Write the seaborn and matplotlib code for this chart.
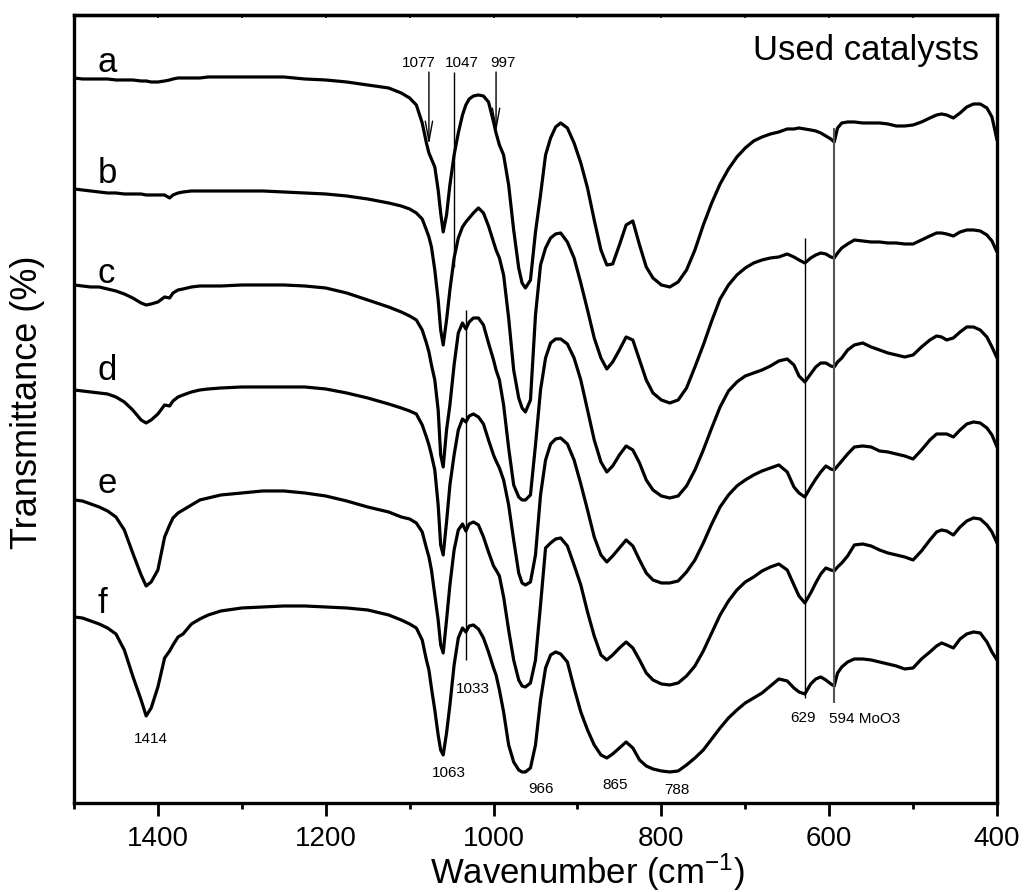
import matplotlib
matplotlib.use("Agg")
import matplotlib.pyplot as plt
import pandas as pd
import seaborn as sns

# Wavenumber grid (cm-1) shared by all spectra
wavenumber = [
    1500, 1490, 1480, 1470, 1460, 1450, 1440, 1430, 1420, 1414,
    1408, 1400, 1392, 1386, 1382, 1376, 1370, 1360, 1350, 1340,
    1325, 1300, 1275, 1250, 1225, 1200, 1175, 1150, 1125, 1110,
    1100, 1092, 1085, 1080, 1077, 1074, 1070, 1066, 1063, 1060,
    1056, 1052, 1047, 1042, 1037, 1033, 1029, 1024, 1018, 1012,
    1006, 1000, 997, 993, 988, 982, 976, 970, 966, 962,
    956, 950, 944, 938, 932, 926, 920, 912, 904, 896,
    888, 880, 872, 865, 858, 850, 842, 834, 826, 818,
    810, 800, 790, 780, 770, 760, 750, 740, 730, 720,
    710, 700, 690, 680, 670, 660, 650, 642, 636, 629,
    622, 616, 610, 604, 598, 594, 590, 585, 578, 570,
    560, 550, 540, 530, 520, 510, 500, 490, 480, 472,
    466, 460, 452, 444, 436, 428, 420, 412, 406, 400,
]

# Transmittance (a.u., stacked spectra)
spec_a = [
    72.2, 72.1, 72.1, 72.1, 72.1, 72.0, 72.0, 72.0, 71.9, 71.9,
    71.8, 71.8, 71.9, 72.0, 72.1, 72.2, 72.2, 72.2, 72.2, 72.3,
    72.3, 72.3, 72.3, 72.3, 72.1, 72.0, 71.8, 71.5, 71.2, 70.7,
    70.2, 69.5, 67.7, 65.7, 64.7, 64.1, 63.3, 61.0, 58.7, 56.8,
    58.5, 61.5, 64.5, 66.7, 68.5, 69.5, 70.1, 70.4, 70.5, 70.4,
    69.8, 67.8, 66.7, 65.5, 64.5, 61.5, 57.0, 53.2, 51.7, 51.2,
    52.0, 56.8, 60.5, 64.5, 66.2, 67.3, 67.7, 67.2, 65.7, 63.7,
    61.2, 58.0, 55.0, 53.5, 53.6, 55.5, 57.5, 57.9, 55.5, 53.3,
    52.2, 51.5, 51.3, 51.8, 53.0, 55.0, 57.5, 59.7, 61.6, 63.1,
    64.3, 65.2, 65.9, 66.3, 66.6, 66.8, 67.1, 67.1, 67.2, 67.1,
    67.0, 66.9, 66.7, 66.4, 66.1, 65.8, 67.2, 67.7, 67.8, 67.8,
    67.7, 67.7, 67.7, 67.6, 67.4, 67.4, 67.5, 67.8, 68.2, 68.5,
    68.6, 68.5, 68.2, 68.7, 69.3, 69.6, 69.6, 69.2, 68.3, 66.0,
]
spec_b = [
    61.1, 61.0, 60.9, 60.8, 60.7, 60.7, 60.6, 60.6, 60.6, 60.5,
    60.5, 60.5, 60.5, 60.2, 60.5, 60.7, 60.8, 60.9, 60.9, 60.9,
    60.9, 60.9, 60.9, 60.8, 60.7, 60.6, 60.4, 60.1, 59.7, 59.4,
    59.1, 58.7, 58.1, 57.0, 56.3, 55.3, 53.0, 50.0, 47.0, 45.5,
    48.0, 51.0, 54.2, 56.2, 57.3, 57.8, 58.2, 58.7, 59.2, 58.7,
    57.4, 55.8, 55.0, 54.2, 52.5, 48.2, 43.0, 40.2, 39.2, 38.8,
    40.0, 48.5, 53.5, 55.2, 56.2, 56.6, 56.7, 55.8, 54.2, 51.7,
    49.0, 46.2, 44.2, 43.1, 43.8, 45.0, 46.3, 46.0, 44.0, 42.0,
    40.7, 40.0, 39.7, 40.0, 41.2, 43.3, 45.5, 47.9, 50.1, 51.5,
    52.5, 53.2, 53.7, 54.0, 54.2, 54.3, 54.6, 54.3, 54.0, 53.7,
    54.2, 54.5, 54.7, 54.6, 54.3, 54.2, 54.7, 55.2, 55.6, 56.0,
    55.9, 55.8, 55.8, 55.7, 55.7, 55.6, 55.6, 56.0, 56.4, 56.7,
    56.7, 56.6, 56.4, 56.8, 57.0, 57.0, 56.9, 56.5, 55.9, 54.8,
]
spec_c = [
    51.5, 51.4, 51.3, 51.3, 51.1, 50.9, 50.6, 50.2, 49.7, 49.5,
    49.6, 49.8, 50.3, 50.2, 50.7, 51.0, 51.1, 51.3, 51.4, 51.4,
    51.4, 51.5, 51.5, 51.5, 51.4, 51.2, 50.7, 50.0, 49.3, 48.8,
    48.4, 48.0, 47.0, 45.7, 44.8, 43.5, 42.0, 39.0, 34.5, 33.3,
    37.0, 39.5, 43.5, 46.7, 47.7, 47.1, 47.8, 48.2, 48.2, 47.5,
    45.7, 44.0, 43.0, 42.0, 39.5, 35.2, 31.5, 30.3, 30.0, 30.0,
    30.5, 35.5, 41.0, 44.2, 45.7, 46.1, 46.1, 45.6, 44.2, 42.0,
    39.0, 36.0, 33.8, 32.8, 33.4, 34.5, 35.4, 35.0, 33.7, 32.0,
    31.0, 30.4, 30.2, 30.4, 31.4, 33.0, 35.0, 37.2, 39.3, 40.9,
    41.8, 42.4, 42.7, 43.0, 43.4, 43.9, 44.1, 43.5, 42.4, 41.8,
    42.6, 43.3, 43.7, 43.7, 43.4, 43.3, 43.8, 44.2, 45.0, 45.5,
    45.7, 45.3, 45.0, 44.7, 44.5, 44.3, 44.5, 45.3, 46.0, 46.4,
    46.3, 46.0, 46.2, 46.8, 47.3, 47.3, 47.0, 46.3, 45.3, 44.2,
]
spec_d = [
    41.0, 40.9, 40.8, 40.7, 40.6, 40.3, 39.8, 39.0, 38.0, 37.7,
    38.0, 38.6, 39.5, 39.4, 39.9, 40.3, 40.5, 40.8, 41.0, 41.1,
    41.2, 41.3, 41.3, 41.3, 41.3, 41.1, 40.7, 40.2, 39.6, 39.2,
    38.9, 38.6, 37.5, 36.3, 35.5, 34.5, 33.0, 29.5, 25.5, 24.5,
    27.8, 31.5, 34.5, 37.0, 38.1, 37.8, 38.4, 38.6, 38.3, 37.6,
    36.0, 34.5, 33.9, 33.2, 32.0, 29.5, 26.0, 22.7, 21.7, 21.5,
    21.8, 24.5, 30.5, 34.0, 35.6, 36.1, 36.2, 35.6, 34.0, 31.6,
    29.0, 26.3, 24.5, 23.8, 24.4, 25.2, 26.0, 25.4, 24.0, 22.7,
    22.0, 21.7, 21.7, 21.9, 22.8, 24.0, 25.7, 27.6, 29.3, 30.5,
    31.4, 32.0, 32.5, 32.9, 33.2, 33.5, 32.8, 31.3, 30.7, 30.3,
    31.3, 32.1, 32.8, 33.4, 33.1, 33.0, 33.4, 33.9, 34.6, 35.3,
    35.4, 35.3, 34.9, 34.8, 34.6, 34.4, 34.1, 35.0, 36.0, 36.6,
    36.6, 36.6, 36.3, 37.0, 37.6, 37.8, 37.7, 37.2, 36.5, 35.3,
]
spec_e = [
    30.0, 29.9, 29.6, 29.3, 28.9, 28.3, 27.0, 24.7, 22.5, 21.4,
    21.8, 23.0, 26.3, 27.5, 28.2, 28.7, 29.0, 29.5, 30.0, 30.2,
    30.5, 30.7, 30.9, 30.9, 30.7, 30.4, 29.9, 29.3, 28.8, 28.3,
    28.1, 27.7, 26.8, 25.2, 24.3, 23.0, 20.5, 18.0, 15.5, 14.7,
    18.0, 21.5, 25.0, 27.0, 27.6, 26.9, 27.6, 27.8, 27.5, 26.3,
    24.8, 23.4, 23.0, 22.4, 20.3, 17.0, 14.0, 12.0, 11.4, 11.3,
    11.7, 14.0, 19.5, 25.2, 25.7, 26.1, 26.2, 25.4, 23.5, 21.5,
    18.8, 16.4, 14.5, 14.0, 14.5, 15.2, 15.8, 15.2, 14.0, 12.7,
    12.0, 11.6, 11.5, 11.7, 12.4, 13.4, 14.9, 16.7, 18.5, 19.9,
    21.0, 21.8, 22.3, 22.9, 23.3, 23.6, 23.0, 21.5, 20.4, 19.7,
    20.7, 21.7, 22.6, 23.2, 23.0, 22.9, 23.3, 23.7, 24.4, 25.5,
    25.6, 25.4, 25.0, 24.7, 24.5, 24.3, 24.0, 24.9, 26.0, 26.8,
    27.0, 26.9, 26.5, 27.3, 27.9, 28.2, 28.1, 27.5, 26.8, 25.7,
]
spec_f = [
    18.3, 18.2, 17.9, 17.6, 17.2, 16.6, 15.0, 12.4, 10.0, 8.4,
    9.2, 11.3, 14.2, 14.9, 15.5, 16.3, 16.6, 17.6, 18.1, 18.5,
    18.9, 19.2, 19.3, 19.4, 19.4, 19.3, 19.2, 19.0, 18.5, 18.0,
    17.6, 17.2, 16.0, 14.0, 13.0, 11.2, 9.0, 6.5, 5.0, 4.5,
    6.7, 9.5, 13.5, 16.2, 17.2, 16.8, 17.4, 17.5, 17.1, 16.2,
    14.8, 13.2, 12.5, 11.0, 8.8, 5.5, 3.8, 3.0, 2.8, 2.8,
    3.2, 5.5, 10.0, 13.2, 14.5, 14.8, 14.6, 13.8, 11.2, 8.8,
    7.0, 5.5, 4.5, 4.2, 4.6, 5.2, 5.8, 5.2, 4.0, 3.4,
    3.1, 2.9, 2.8, 2.9, 3.5, 4.2, 5.0, 6.1, 7.2, 8.2,
    9.0, 9.7, 10.2, 10.7, 11.4, 12.1, 11.9, 11.2, 10.8, 10.6,
    11.6, 12.1, 12.3, 12.0, 11.6, 11.4, 12.7, 13.3, 13.8, 14.1,
    14.1, 14.0, 13.8, 13.6, 13.4, 13.1, 13.2, 14.1, 14.8, 15.4,
    15.7, 15.5, 15.2, 16.1, 16.6, 16.8, 16.7, 15.8, 14.8, 14.0,
]

samples = ["a", "b", "c", "d", "e", "f"]
spectra = [spec_a, spec_b, spec_c, spec_d, spec_e, spec_f]
sample_label_y = [72.8, 61.7, 51.7, 42.0, 30.7, 18.7]

frames = []
for name, vals in zip(samples, spectra):
    assert len(vals) == len(wavenumber), name
    frames.append(pd.DataFrame({"wavenumber": wavenumber, "T": vals, "sample": name}))
df = pd.concat(frames, ignore_index=True)

sns.set_theme(style="ticks")
plt.rcParams["font.family"] = ["Liberation Sans", "DejaVu Sans"]
plt.rcParams["mathtext.fontset"] = "custom"
plt.rcParams["mathtext.rm"] = "Liberation Sans"
plt.rcParams["mathtext.it"] = "Liberation Sans:italic"
plt.rcParams["text.color"] = "black"
plt.rcParams["axes.labelcolor"] = "black"
plt.rcParams["xtick.color"] = "black"
plt.rcParams["lines.solid_joinstyle"] = "round"
plt.rcParams["lines.solid_capstyle"] = "round"

fig = plt.figure(figsize=(10.29, 8.92), dpi=100)
ax = fig.add_axes([0.0719, 0.0998, 0.8970, 0.8834])

sns.lineplot(data=df, x="wavenumber", y="T", units="sample", estimator=None,
             color="black", lw=2.3, legend=False, ax=ax)

ax.set_xlim(1500, 400)
ax.set_ylim(-0.3, 78.5)
ax.set_xticks([1400, 1200, 1000, 800, 600, 400])
ax.set_xticks([1500, 1300, 1100, 900, 700, 500], minor=True)
ax.set_yticks([])
ax.tick_params(axis="x", which="major", direction="out", length=9.5, width=2,
               labelsize=20, pad=7, color="black", labelcolor="black")
ax.tick_params(axis="x", which="minor", direction="out", length=4.5, width=2, color="black")
for sp in ax.spines.values():
    sp.set_visible(True)
    sp.set_linewidth(2.4)
    sp.set_color("black")

top = ax.secondary_xaxis("top")
top.set_xticks(list(range(400, 1501, 100)))
top.tick_params(direction="in", length=2.5, width=1.2, labeltop=False, color="black")
top.spines["top"].set_linewidth(2.4)

ax.set_xlabel("Wavenumber (cm$^{-1}$)", fontsize=25, color="black")
ax.xaxis.set_label_coords(0.556, -0.062)
ax.set_ylabel("Transmittance (%)", fontsize=26, color="black")
ax.yaxis.set_label_coords(-0.031, 0.508)

for name, y in zip(samples, sample_label_y):
    ax.text(1472, y, name, fontsize=25, ha="left", va="baseline", color="black")

ax.text(422, 74.0, "Used catalysts", fontsize=25, ha="right", va="baseline", color="black")

# band markers on the top spectrum
ann = dict(fontsize=11, va="baseline", color="black")
ax.text(1089.7, 73.3, "1077", ha="center", **ann)
ax.text(1037.6, 73.3, "1047", ha="center", **ann)
ax.text(988.4, 73.3, "997", ha="center", **ann)
arrow = dict(arrowstyle="->,head_length=1.2,head_width=0.22", lw=1.0,
             color="black", shrinkA=0, shrinkB=0)
ax.annotate("", xy=(1077, 65.5), xytext=(1077, 72.8), arrowprops=arrow)
ax.annotate("", xy=(997, 66.8), xytext=(997, 72.8), arrowprops=arrow)
ax.vlines(1047, 53.3, 72.8, color="black", lw=1.0)

# reference lines through the stacked spectra
ax.vlines(1033, 14.0, 49.0, color="black", lw=1.0)
ax.vlines(629, 10.2, 56.2, color="black", lw=1.0)
ax.vlines(594, 9.7, 67.2, color="#555555", lw=1.5)

# band positions on the bottom spectrum
ax.text(1408.5, 5.7, "1414", ha="center", **ann)
ax.text(1053, 2.3, "1063", ha="center", **ann)
ax.text(1024.4, 10.7, "1033", ha="center", **ann)
ax.text(943.8, 0.7, "966", ha="center", **ann)
ax.text(854.6, 1.1, "865", ha="center", **ann)
ax.text(781.6, 0.6, "788", ha="center", **ann)
ax.text(631, 7.8, "629", ha="center", **ann)
ax.text(600, 7.7, "594 MoO3", ha="left", **ann)

fig.savefig("out.png", dpi=100, facecolor="white")
